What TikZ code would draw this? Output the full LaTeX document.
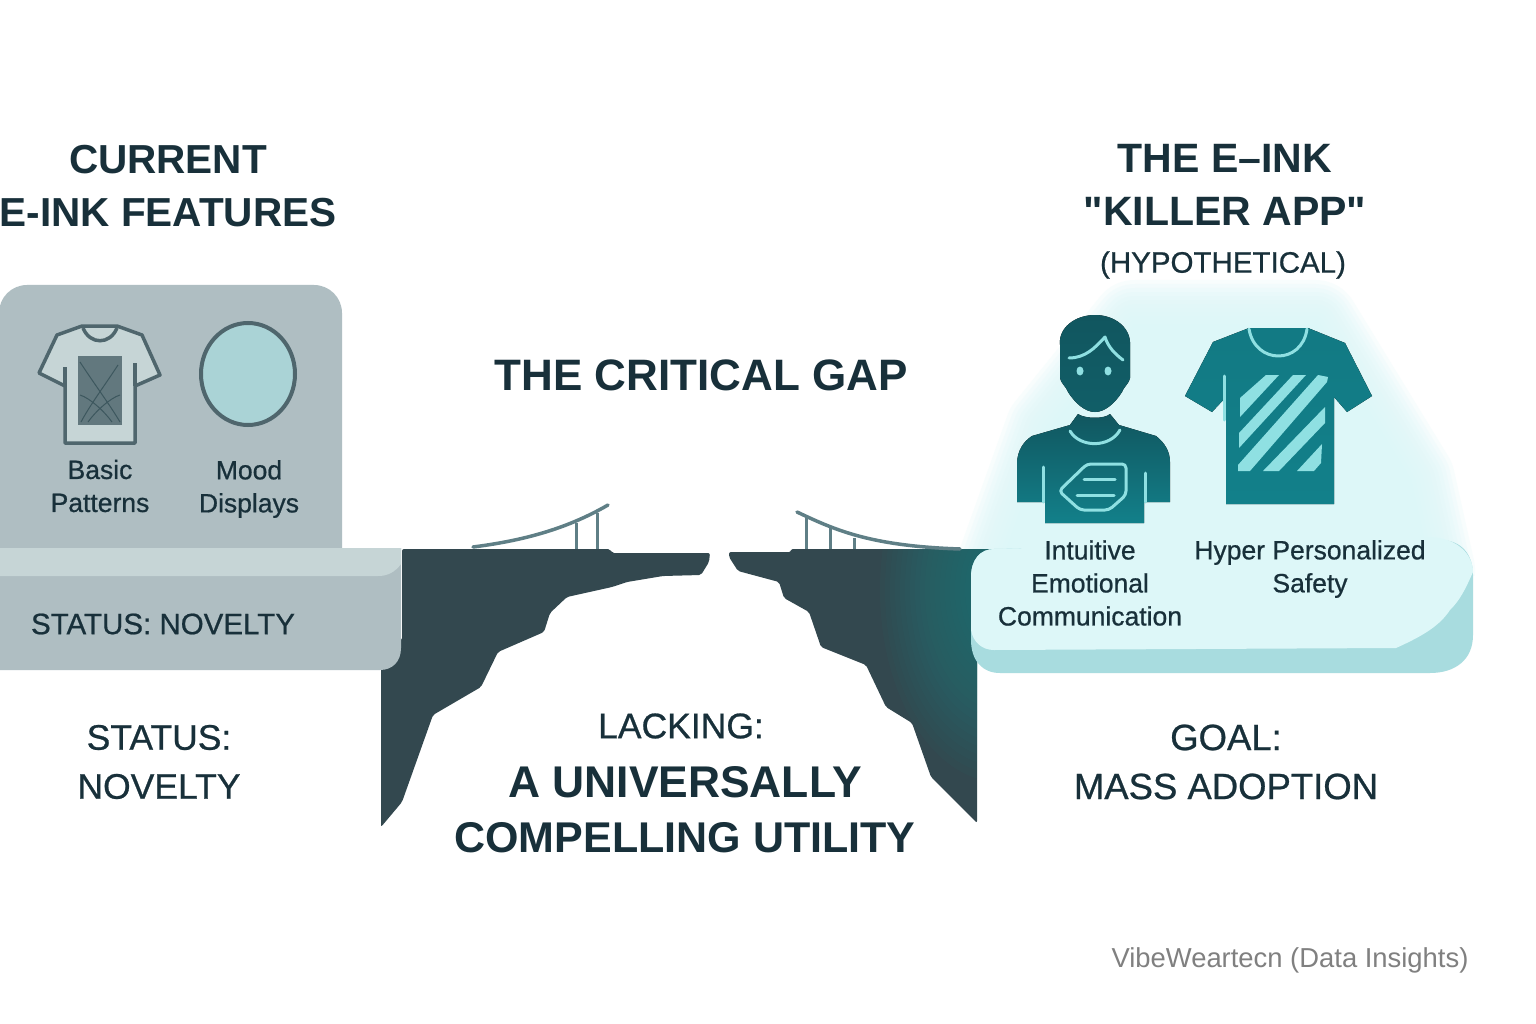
\documentclass[tikz,border=0pt]{standalone}
\usepackage{fontspec}
\setmainfont{Liberation Sans}
\newfontfamily\mediumfont[FakeBold=0.7]{Liberation Sans}
\newfontfamily\quotefont{Liberation Sans}
\usetikzlibrary{calc}
\definecolor{inkdark}{HTML}{18303A}
\definecolor{cliffdark}{HTML}{33484F}
\definecolor{cliffteal}{HTML}{1F7D80}
\definecolor{panelgray}{HTML}{AFBEC2}
\definecolor{stripgray}{HTML}{C6D5D6}
\definecolor{iconline}{HTML}{4F666D}
\definecolor{bridgeline}{HTML}{5F7F86}
\definecolor{glowcyan}{HTML}{DDF7F8}
\definecolor{shelfshade}{HTML}{A8DCDF}
\definecolor{iconlight}{HTML}{8FE0E2}
\definecolor{tealtop}{HTML}{11565F}
\definecolor{tealbot}{HTML}{12808A}
\tikzset{
  titletext/.style = {text = inkdark, font = \fontsize{40.5}{53}\selectfont\bfseries, align = center},
  statustext/.style = {text = inkdark, font = \fontsize{35.5}{49}\selectfont\mediumfont, align = center},
  labeltext/.style = {text = inkdark, font = \fontsize{26.5}{33}\selectfont\mediumfont, align = center},
  lightline/.style = {draw = iconlight, line width = 3pt, line cap = round, line join = round},
  cable/.style = {draw = bridgeline, line width = 3.5pt, line cap = round},
  hanger/.style = {draw = bridgeline, line width = 3pt}
}
\begin{document}
\begin{tikzpicture}[x = 1pt, y = -1pt]
\useasboundingbox (0,0) rectangle (1536,1024);
\fill[white] (0,0) rectangle (1536,1024);

% glow behind the right group
\begin{scope}
  \clip (900,240) rectangle (1510,575);
  \foreach \w in {90,82,...,2}
    \path[draw = glowcyan, fill = glowcyan, opacity = 0.2, line width = \w pt, line join = round]
      (1135,325) -- (1315,325) -- (1410,480) -- (1430,570) -- (1000,570) -- (1050,430) -- cycle;
  \fill[glowcyan] (1135,325) -- (1315,325) -- (1410,480) -- (1430,570) -- (1000,570) -- (1050,430) -- cycle;
\end{scope}

% cliffs
\fill[cliffdark, rounded corners = 2pt] (402,549) -- (610,549) -- (612,553) -- (710,553) -- (709,562) -- (701,575) -- (663,576)
  -- (627,582) -- (612,587) -- (567,597) -- (550,613) -- (544,632) -- (498,652) -- (481,687) -- (433,715)
  -- (402,802) -- (381,827) -- (381,640) -- (402,640) -- cycle;
\begin{scope}
  \clip[rounded corners = 2pt] (994,549) -- (791,549) -- (791,552) -- (729,552) -- (729,557) -- (738,571) -- (779,582) -- (784,598)
    -- (809,612) -- (821,647) -- (866,665) -- (886,707) -- (912,723) -- (931,777) -- (977,823)
    -- (977,640) -- (994,600) -- cycle;
  \fill[cliffdark] (700,540) rectangle (1000,830);
  \foreach \r in {120,115,...,5}
    \fill[cliffteal, opacity = 0.06] (1000,590) circle[x radius = \r pt, y radius = 1.6*\r pt];
\end{scope}

% left panel
\fill[panelgray, rounded corners = 28pt] (-1,285) rectangle (342,600);
\fill[panelgray] (-1,548) -- (401,548) -- (401,648)
  .. controls (401,662) and (392,670) .. (380,670) -- (-1,670) -- cycle;
\fill[stripgray] (-1,548) -- (401,548) -- (401,564)
  .. controls (395,572) and (388,576) .. (378,576) -- (-1,576) -- cycle;

% bridge stubs
\draw[cable] (473,547) .. controls (520,541) and (565,530) .. (608,505);
\draw[hanger] (576,523) -- (576,549);
\draw[hanger] (597,513) -- (597,549);
\draw[cable] (797,512) .. controls (835,530) and (870,546) .. (960,549);
\draw[hanger] (806,518) -- (806,549);
\draw[hanger] (830,528) -- (830,549);
\draw[hanger] (854,538) -- (854,549);

% right shelf
\fill[shelfshade] (971,577) .. controls (971,560) and (980,549) .. (994,549) -- (1440,540)
  .. controls (1462,540) and (1473,555) .. (1473,575) -- (1473,635)
  .. controls (1473,660) and (1455,673) .. (1430,673) -- (1000,673)
  .. controls (982,673) and (971,660) .. (971,640) -- cycle;
\fill[glowcyan] (971,577) .. controls (971,560) and (980,549) .. (994,549) -- (1430,537)
  .. controls (1458,538) and (1473,555) .. (1473,572) .. controls (1465,590) and (1460,600) .. (1450,610)
  .. controls (1440,625) and (1425,635) .. (1396,648) -- (994,650)
  .. controls (982,650) and (973,642) .. (971,630) -- cycle;

% basic shirt
\filldraw[fill = stripgray, draw = iconline, line width = 3.5pt, line join = round]
  (82,326) -- (57,335) -- (39,373) -- (65,386) -- (65,443) -- (135,443) -- (135,386) -- (160,375)
  -- (142,335) -- (117,326) -- cycle;
\draw[iconline, line width = 3.5pt] (83,328) .. controls (90,345) and (110,345) .. (117,328);
\draw[iconline, line width = 3.5pt] (65,367) -- (65,386);
\draw[iconline, line width = 3.5pt] (135,363) -- (135,386);
\fill[iconline!80!panelgray] (78,356) rectangle (122,425);
\draw[iconline!110, line width = 1pt] (80,362) .. controls (95,385) and (110,405) .. (120,422);
\draw[iconline!110, line width = 1pt] (118,365) .. controls (105,385) and (90,405) .. (81,422);
\draw[iconline!110, line width = 1pt] (80,395) .. controls (90,398) and (105,412) .. (112,422);
\draw[iconline!110, line width = 1pt] (120,395) .. controls (110,398) and (95,412) .. (88,422);

% mood circle
\filldraw[fill = shelfshade!70!panelgray, draw = iconline, line width = 4pt] (248,374) circle[x radius = 47pt, y radius = 51pt];

% person
\fill[top color = tealtop, bottom color = tealtop!80!tealbot] (1060,345) .. controls (1058,328) and (1075,315) .. (1095,315)
  .. controls (1115,315) and (1131,328) .. (1130,345) -- (1130,378)
  .. controls (1128,385) and (1125,385) .. (1122,392) .. controls (1115,403) and (1105,412) .. (1095,412)
  .. controls (1085,412) and (1075,403) .. (1068,392) .. controls (1065,385) and (1062,385) .. (1060,378) -- cycle;
\fill[top color = tealtop, bottom color = tealbot] (1078,414) .. controls (1085,419) and (1105,419) .. (1110,414)
  -- (1119,425) -- (1156,436) .. controls (1165,443) and (1170,452) .. (1170,462) -- (1170,502) -- (1144,502)
  -- (1144,523) -- (1045,523) -- (1045,502) -- (1017,502) -- (1017,462)
  .. controls (1018,450) and (1023,442) .. (1032,436) -- (1070,425) -- cycle;
\draw[lightline] (1069,358) .. controls (1085,358) and (1095,348) .. (1105,337) .. controls (1108,347) and (1115,354) .. (1123,360);
\fill[iconlight] (1080,371) circle[x radius = 3.5pt, y radius = 4.5pt];
\fill[iconlight] (1108,371) circle[x radius = 3.5pt, y radius = 4.5pt];
\draw[lightline] (1070,431) .. controls (1080,448) and (1110,448) .. (1120,430);
\draw[lightline] (1043,467) -- (1043,502);
\draw[lightline] (1145,473) -- (1145,502);
\draw[lightline, rounded corners = 4pt] (1087,464) -- (1126,464) -- (1126,495) -- (1109,510) -- (1080,510) -- (1059,491) -- cycle;
\draw[lightline] (1084,479) -- (1115,479);
\draw[lightline] (1077,495) -- (1114,495);

% personalized shirt
\fill[top color = tealbot!85!tealtop, bottom color = tealbot] (1249,328) -- (1213,342) -- (1185,396) -- (1212,412)
  -- (1226,397) -- (1226,504) -- (1334,504) -- (1334,397) -- (1347,412) -- (1372,396) -- (1345,343) -- (1308,328)
  -- cycle;
\draw[lightline] (1249,329) .. controls (1255,365) and (1302,365) .. (1307,329);
\draw[lightline] (1224,376) -- (1224,420);
\fill[iconlight] (1266,375) -- (1279,375) -- (1240,417) -- (1240,398) -- cycle;
\fill[iconlight] (1293,375) -- (1306,375) -- (1239,448) -- (1239,433) -- cycle;
\fill[iconlight] (1318,375) -- (1328,377) -- (1327,382) -- (1250,471) -- (1238,471) -- (1238,465) -- cycle;
\fill[iconlight] (1325,407) -- (1325,423) -- (1279,471) -- (1263,471) -- cycle;
\fill[iconlight] (1322,444) -- (1321,463) -- (1314,471) -- (1297,471) -- cycle;

% texts
\node[titletext] (current) at (168,186) {CURRENT\\E-INK FEATURES};
\node[titletext, font = \fontsize{41}{53}\selectfont\bfseries\quotefont] (killer) at (1225,185) {THE E–INK\\"KILLER APP"};
\node[text = inkdark, font = \fontsize{29.5}{37}\selectfont\mediumfont] (hypo) at (1223,265) {(HYPOTHETICAL)};
\node[titletext, font = \fontsize{44}{53}\selectfont\bfseries] (gap) at (701,375) {THE CRITICAL GAP};
\node[labeltext] (basic) at (100,486) {Basic\\Patterns};
\node[labeltext] (mood) at (249,489) {Mood\\Displays};
\node[text = inkdark, font = \fontsize{29.5}{35}\selectfont\mediumfont] (shelfstatus) at (163,624) {STATUS: NOVELTY};
\node[labeltext] (intuitive) at (1090,583) {Intuitive\\Emotional\\Communication};
\node[labeltext] (hyper) at (1310,569) {Hyper Personalized\\Safety};
\node[statustext] (status) at (159,762) {STATUS:\\NOVELTY};
\node[statustext, font = \fontsize{36.5}{49}\selectfont\mediumfont] (goal) at (1226,762) {GOAL:\\MASS ADOPTION};
\node[text = inkdark, font = \fontsize{35.5}{40}\selectfont\mediumfont] (lacking) at (681,726) {LACKING:};
\node[titletext, font = \fontsize{43}{55}\selectfont\bfseries] (utility) at (685,810) {{\fontsize{44.4}{55}\selectfont A UNIVERSALLY}\\COMPELLING UTILITY};
\node[text = black!50, font = \fontsize{27.4}{32}\selectfont] (source) at (1290,960) {VibeWeartecn (Data Insights)};
\end{tikzpicture}
\end{document}
